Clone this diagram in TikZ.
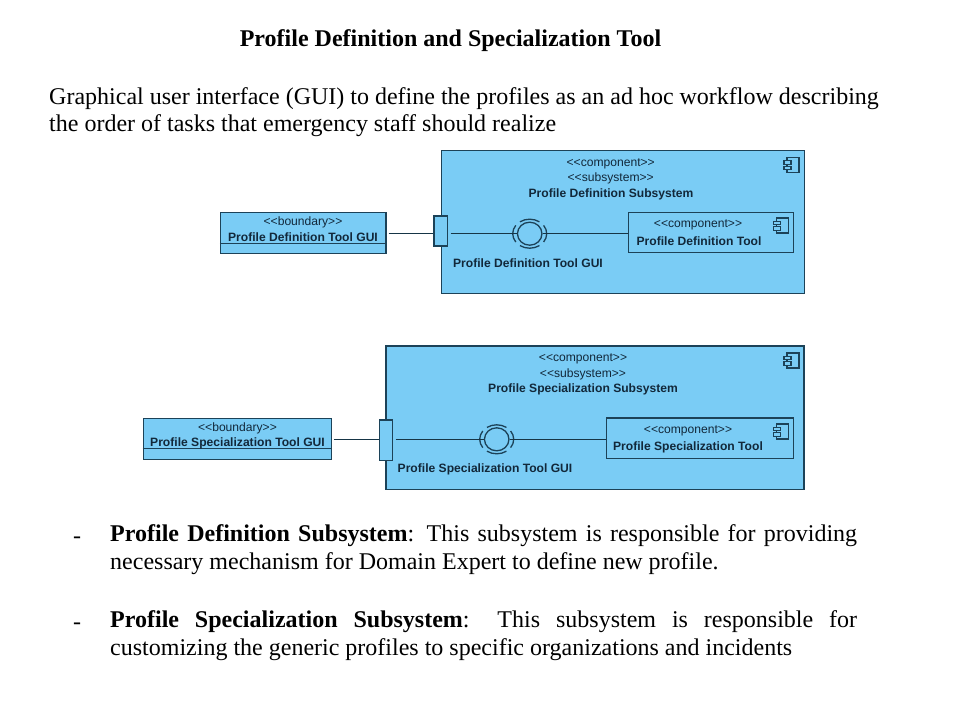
\documentclass[tikz,border=0pt]{standalone}
\usepackage{fontspec}
\setmainfont{Liberation Serif}
\setsansfont{Liberation Sans}
\usetikzlibrary{shapes.geometric}
\definecolor{umlblue}{HTML}{7ACCF5}
\definecolor{umlline}{HTML}{1C4258}
\definecolor{umltext}{HTML}{12283A}
\tikzset{
  umlbox/.style={draw=umlline,fill=umlblue,line width=1.3pt,inner sep=0pt},
  umlwire/.style={draw=umlline!80!black,line width=1.5pt},
  stereo/.style={inner sep=0pt,yshift=-1pt,text=umltext,font=\sffamily\fontsize{12.1}{14}\selectfont},
  umlname/.style={inner sep=0pt,yshift=-1pt,text=umltext,font=\sffamily\bfseries\fontsize{12.1}{14}\selectfont},
  slidetext/.style={inner sep=0pt,anchor=west,align=left,font=\fontsize{24}{27.5}\selectfont},
  bullet/.style={inner sep=0pt,anchor=north west,text width=747pt,align=justify,font=\fontsize{24}{28}\selectfont},
  compicon/.pic={
    \draw[umlline,line width=1.1pt,fill=umlblue] (3,0) -- (15,0) -- (15,15) -- (3,15) -- cycle;
    \draw[umlline,line width=1.1pt,fill=umlblue] (0,3.2) rectangle (7,6.8);
    \draw[umlline,line width=1.1pt,fill=umlblue] (0,8.8) rectangle (7,12.4);
  },
  ballring/.pic={
    \foreach \a/\b in {-35/35,55/125,145/215,235/305}
      \draw[umlline,line width=1.3pt] (\a:17 and 14.5) arc[start angle=\a,end angle=\b,x radius=17,y radius=14.5];
  }
}
\begin{document}
\begin{tikzpicture}[x=1pt,y=-1pt]
\useasboundingbox[fill=white] (0,0) rectangle (960,720);
\node[inner sep=0pt,font=\bfseries\fontsize{24}{26}\selectfont] (title) at (450.5,40.5) {Profile Definition and Specialization Tool};
\node[slidetext] (intro) at (49,112) {Graphical user interface (GUI) to define the profiles as an ad hoc workflow describing\\the order of tasks that emergency staff should realize};
% definition subsystem
\node[umlbox,minimum width=363.5pt,minimum height=143pt] (sys1) at (623,222.2) {};
\pic at (784,157.5) {compicon};
\node[stereo] (sys1a) at (610.7,162.5) {<{}<component>{}>};
\node[stereo] (sys1b) at (610.7,177.5) {<{}<subsystem>{}>};
\node[umlname] (sys1c) at (611,193) {Profile Definition Subsystem};
\node[umlbox,minimum width=165.5pt,minimum height=41.5pt] (bnd1) at (303.3,232.9) {};
\draw[umlline,line width=1.3pt] ([yshift=-10.5pt]bnd1.west) -- ([yshift=-10.5pt]bnd1.east);
\node[stereo] (bnd1a) at (303,221.5) {<{}<boundary>{}>};
\node[umlname] (bnd1b) at (303,236.5) {Profile Definition Tool GUI};
\node[umlbox,minimum width=13.5pt,minimum height=30pt] (port1) at (440.8,231) {};
\node[draw=umlline,line width=1.3pt,ellipse,inner sep=0pt,minimum width=24.5pt,minimum height=23pt] (ball1) at (529.7,233.7) {};
\pic at (529.7,233.7) {ballring};
\node[umlbox,minimum width=165pt,minimum height=40.5pt] (comp1) at (711.2,232.5) {};
\pic at (773.5,218) {compicon};
\node[stereo] (comp1a) at (698,224) {<{}<component>{}>};
\node[umlname] (comp1b) at (699,240) {Profile Definition Tool};
\node[umlname] (gui1) at (528,262) {Profile Definition Tool GUI};
\draw[umlwire] ([xshift=2pt]bnd1.east |- ball1.west) -- (port1.west |- ball1.west);
\draw[umlwire] ([xshift=2.5pt]port1.east |- ball1.west) -- (ball1.west);
\draw[umlwire] (ball1.east) -- (comp1.west |- ball1.east);
% specialization subsystem
\node[umlbox,minimum width=418pt,minimum height=143.3pt] (sys2) at (595,417.7) {};
\pic at (784,353) {compicon};
\node[stereo] (sys2a) at (583,358) {<{}<component>{}>};
\node[stereo] (sys2b) at (583,373) {<{}<subsystem>{}>};
\node[umlname] (sys2c) at (583,388.5) {Profile Specialization Subsystem};
\node[umlbox,minimum width=188pt,minimum height=41pt] (bnd2) at (237.3,438.8) {};
\draw[umlline,line width=1.3pt] ([yshift=-10pt]bnd2.west) -- ([yshift=-10pt]bnd2.east);
\node[stereo] (bnd2a) at (237.5,427.5) {<{}<boundary>{}>};
\node[umlname] (bnd2b) at (237.5,442) {Profile Specialization Tool GUI};
\node[umlbox,minimum width=13.4pt,minimum height=40.3pt] (port2) at (386,440.2) {};
\node[draw=umlline,line width=1.3pt,ellipse,inner sep=0pt,minimum width=24.5pt,minimum height=23pt] (ball2) at (496.7,439.3) {};
\pic at (496.7,439.3) {ballring};
\node[umlbox,minimum width=186.5pt,minimum height=40.5pt] (comp2) at (700,438.3) {};
\pic at (773.5,424) {compicon};
\node[stereo] (comp2a) at (688,430) {<{}<component>{}>};
\node[umlname] (comp2b) at (688,446) {Profile Specialization Tool};
\node[umlname] (gui2) at (485,468) {Profile Specialization Tool GUI};
\draw[umlwire] ([xshift=2pt]bnd2.east |- ball2.west) -- (port2.west |- ball2.west);
\draw[umlwire] ([xshift=2.5pt]port2.east |- ball2.west) -- (ball2.west);
\draw[umlwire] (ball2.east) -- (comp2.west |- ball2.east);
% notes
\node[slidetext] (dash1) at (73,540) {-};
\node[bullet] (note1) at (110,524.5) {\textbf{Profile Definition Subsystem}: This subsystem is responsible for providing\linebreak necessary mechanism for Domain Expert to define new profile.};
\node[slidetext] (dash2) at (73,626) {-};
\node[bullet] (note2) at (110,610.5) {\textbf{Profile Specialization Subsystem}: This subsystem is responsible for\linebreak customizing the generic profiles to specific organizations and incidents};
\end{tikzpicture}
\end{document}
